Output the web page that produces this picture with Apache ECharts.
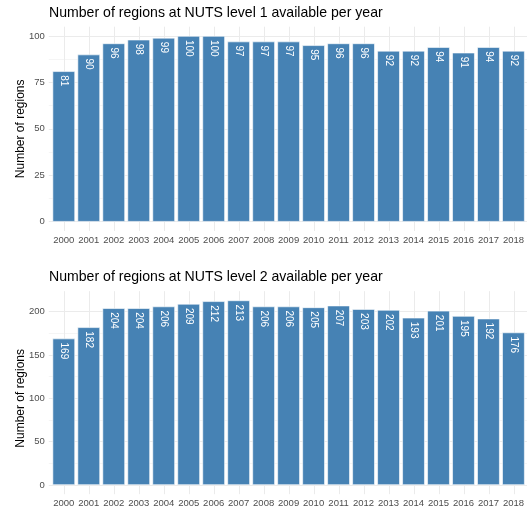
<!DOCTYPE html>
<html>
<head>
<meta charset="utf-8">
<script src="https://cdn.jsdelivr.net/npm/echarts@6/dist/echarts.min.js"></script>
<style>html,body{margin:0;padding:0;background:#fff}#c{width:527px;height:510px}</style>
</head>
<body>
<div id="c"></div>
<script>
const years = ['2000','2001','2002','2003','2004','2005','2006','2007','2008','2009','2010','2011','2012','2013','2014','2015','2016','2017','2018'];
const nuts1 = [81,90,96,98,99,100,100,97,97,97,95,96,96,92,92,94,91,94,92];
const nuts2 = [169,182,204,204,206,209,212,213,206,206,205,207,203,202,193,201,195,192,176];
const titles = ['Number of regions at NUTS level 1 available per year','Number of regions at NUTS level 2 available per year'];
const yName = 'Number of regions';
const yMajor1 = 25, yMajor2 = 50;

const FONT = "'Liberation Sans', Arial, sans-serif";
const MAJ = '#ebebeb', MIN = '#f5f5f5';

function panel(idx, data, major, layout) {
  const base = idx * 3;
  const grids = [
    {left: 48.8, right: 0, top: layout.aTop, height: layout.aH},
    {left: 51.3, right: 0.5, top: layout.pTop, height: layout.pH},
    {left: 63.8, right: 13, top: layout.pTop, height: layout.pH}
  ];
  const xAxes = [
    {gridIndex: base, type: 'value', show: false, min: 0, max: 1},
    {gridIndex: base + 1, type: 'category', data: years,
     axisLine: {show: false}, axisTick: {show: false}, splitLine: {show: false},
     axisLabel: {color: '#4d4d4d', fontSize: 9.5, fontFamily: FONT, margin: 4, interval: 0}},
    {gridIndex: base + 2, type: 'value', min: 0, max: years.length - 1, interval: 1,
     axisLine: {show: false}, axisTick: {show: false}, axisLabel: {show: false},
     splitLine: {show: true, lineStyle: {color: MAJ, width: 1}}}
  ];
  const yAxes = [
    {gridIndex: base, type: 'value', min: 0, max: layout.top, interval: major / 2,
     name: yName, nameLocation: 'middle', nameGap: 22, nameMoveOverlap: false,
     nameTextStyle: {color: '#000', fontSize: 12, fontFamily: FONT},
     axisLine: {show: false}, axisTick: {show: false},
     axisLabel: {color: '#4d4d4d', fontSize: 9.5, fontFamily: FONT, margin: 4,
       formatter: v => (v % major === 0 ? String(v) : '')},
     splitLine: {show: true, lineStyle: {color: [MAJ, MIN], width: 1}}},
    {gridIndex: base + 1, type: 'value', min: layout.lo, max: layout.hi, show: false},
    {gridIndex: base + 2, type: 'value', min: 0, max: 1, show: false}
  ];
  const series = [{
    type: 'bar', xAxisIndex: base + 1, yAxisIndex: base + 1, data: data,
    barCategoryGap: '10%', z: 3,
    itemStyle: {color: '#4682B4', borderColor: '#ffffff', borderWidth: 0.6},
    label: {show: true, position: 'insideTop', rotate: -90, distance: 4,
      align: 'left', verticalAlign: 'middle',
      color: '#fff', fontSize: 10, fontFamily: FONT}
  }];
  return {grids, xAxes, yAxes, series};
}

const p1 = panel(0, nuts1, yMajor1, {aTop: 36, aH: 185.7, pTop: 26.7, pH: 204.3, lo: -5, hi: 105, top: 100});
const p2 = panel(1, nuts2, yMajor2, {aTop: 311.7, aH: 173.3, pTop: 291.2, pH: 203.0, lo: -10.65, hi: 223.65, top: 200});

const chart = echarts.init(document.getElementById('c'), null, {renderer: 'canvas'});
chart.setOption({
  backgroundColor: '#fff',
  animation: false,
  title: [
    {text: titles[0], left: 44, top: 1, textStyle: {fontSize: 14.1, fontWeight: 'normal', color: '#000', fontFamily: FONT}},
    {text: titles[1], left: 44, top: 265, textStyle: {fontSize: 14.1, fontWeight: 'normal', color: '#000', fontFamily: FONT}}
  ],
  grid: [...p1.grids, ...p2.grids],
  xAxis: [...p1.xAxes, ...p2.xAxes],
  yAxis: [...p1.yAxes, ...p2.yAxes],
  series: [...p1.series, ...p2.series]
});
</script>
</body>
</html>
